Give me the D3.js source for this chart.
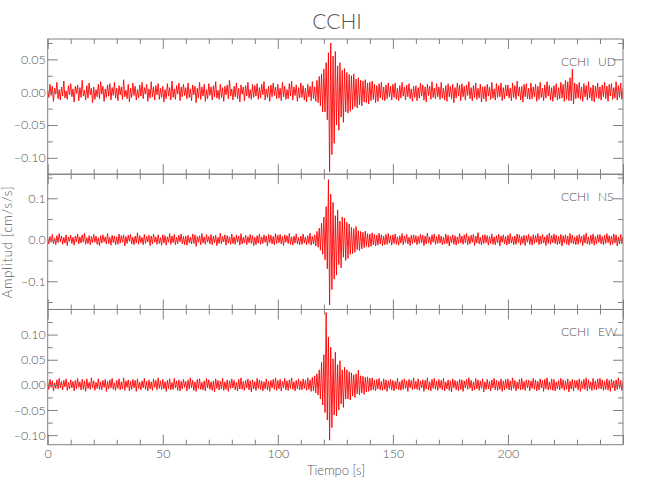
<!DOCTYPE html>
<html><head><meta charset="utf-8">
<script src="https://cdn.jsdelivr.net/npm/d3@7"></script>
<style>
body{margin:0;background:#fff}
svg{display:block}
text{font-family:Lato,"Liberation Sans Narrow","DejaVu Sans Condensed",sans-serif;font-weight:300;fill:#555}
</style>
</head><body><svg id="c" width="650" height="500"></svg>
<script>
const station = "CCHI";
const components = ["UD", "NS", "EW"];
const dt = 0.5;          // sample spacing [s]
const unit = 0.001;      // values below are in 1e-3 cm/s/s
const xMajorTicks = [0, 50, 100, 150, 200, 250];
const xMinorTicks = [10,20,30,40,60,70,80,90,110,120,130,140,160,170,180,190,210,220,230,240];
const yDomains = [[-0.125, 0.081], [-0.168, 0.158], [-0.119, 0.150]];
const yMajorTicks = [[0.05, 0, -0.05, -0.10], [0.1, 0, -0.1], [0.10, 0.05, 0, -0.05, -0.10]];
const yMinorTicks = [[0.075, 0.025, -0.025, -0.075, -0.125], [0.15, 0.05, -0.05, -0.15], [0.125, 0.075, 0.025, -0.025, -0.075]];
const yTickDecimals = [2, 1, 2];

const udValues = [
3,-8,12,-5,9,-14,6,-3,15,-10,4,-12,8,-6,17,-9,2,-11,10,-4,
13,-7,5,-15,9,-2,11,-13,7,-8,18,-6,3,-12,10,-9,14,-4,6,-16,
8,-11,4,-7,12,-10,16,-3,9,-14,5,-8,11,-6,13,-12,7,-5,15,-9,
6,-13,10,-4,8,-11,19,-7,3,-10,12,-15,6,-8,14,-5,9,-12,4,-9,
11,-6,15,-10,7,-3,12,-14,5,-9,16,-7,8,-12,10,-4,13,-11,6,-8,
9,-15,4,-10,13,-6,7,-12,17,-8,5,-11,10,-3,14,-13,8,-7,12,-5,
7,-10,14,-8,5,-13,11,-4,9,-16,6,-9,15,-11,8,-6,12,-14,4,-10,
13,-5,8,-12,10,-7,16,-9,3,-11,12,-8,7,-14,9,-4,11,-10,18,-6,
5,-12,9,-7,14,-10,6,-15,11,-3,8,-13,10,-6,15,-9,4,-11,12,-8,
10,-6,13,-11,7,-9,12,-4,16,-12,5,-8,9,-14,11,-7,14,-5,8,-10,
12,-9,6,-13,15,-7,9,-11,4,-10,13,-6,17,-12,8,-5,11,-14,7,-9,
14,-8,10,-12,6,-15,12,-7,9,-13,16,-10,8,-14,18,-16,24,-21,28,-30,
35,-30,45,-42,60,-121,75,-95,55,-78,62,-50,40,-58,45,-38,33,-46,36,-30,
30,-32,27,-29,25,-26,28,-22,20,-24,22,-19,18,-21,17,-15,19,-16,14,-18,
15,-13,17,-11,12,-16,10,-14,13,-9,15,-12,8,-13,11,-10,14,-7,9,-12,
12,-8,14,-11,6,-13,10,-9,15,-6,8,-12,11,-7,13,-10,5,-14,9,-8,
10,-13,7,-9,14,-6,11,-12,8,-15,12,-5,9,-11,16,-8,6,-10,13,-7,
8,-11,15,-9,6,-12,10,-14,13,-7,9,-10,12,-16,7,-9,14,-6,11,-13,
13,-7,9,-12,11,-5,16,-10,7,-13,10,-8,14,-11,6,-9,12,-15,8,-10,
9,-14,12,-6,8,-11,15,-9,5,-12,13,-8,10,-7,14,-13,7,-10,11,-6,
11,-9,6,-13,14,-8,10,-11,17,-6,8,-12,9,-15,12,-7,13,-10,6,-11,
14,-10,8,-7,12,-14,9,-11,15,-8,6,-13,11,-9,16,-6,10,-12,7,-14,
10,-8,13,-12,7,-10,15,-9,12,-14,18,-11,16,-13,22,-13,35,-18,14,-10,
12,-9,15,-11,8,-14,13,-7,10,-12,16,-9,7,-13,11,-15,9,-8,14,-10,
8,-12,11,-7,15,-10,9,-14,12,-6,13,-11,7,-9,16,-12,10,-8,14,-11,
6];

const nsValues = [
5,-10,8,-6,13,-9,4,-12,10,-7,15,-5,9,-11,6,-8,12,-14,7,-4,
11,-9,6,-13,9,-5,14,-10,7,-8,12,-6,16,-11,5,-9,10,-12,8,-7,
13,-6,9,-11,5,-14,10,-8,12,-5,7,-10,15,-9,6,-13,11,-7,9,-12,
7,-11,14,-8,10,-6,12,-15,8,-9,11,-4,13,-10,6,-12,9,-8,17,-11,
10,-7,6,-12,13,-9,8,-5,11,-14,9,-10,14,-6,7,-11,12,-9,5,-13,
12,-8,10,-13,7,-6,15,-11,9,-7,13,-12,6,-9,11,-5,14,-10,8,-12,
9,-13,11,-7,6,-10,14,-9,12,-16,8,-6,10,-12,15,-8,7,-11,13,-6,
8,-10,13,-12,9,-7,11,-14,6,-9,16,-10,8,-5,12,-13,10,-8,7,-11,
14,-9,7,-11,12,-6,9,-13,15,-10,6,-8,11,-12,8,-7,13,-9,10,-14,
6,-12,10,-8,14,-11,7,-9,12,-6,9,-15,13,-7,11,-10,8,-12,15,-9,
11,-7,13,-10,8,-14,12,-6,10,-9,15,-11,7,-13,9,-8,14,-10,6,-12,
9,-11,14,-8,7,-12,10,-9,16,-13,8,-10,12,-15,20,-18,28,-25,40,-35,
55,-48,80,-70,145,-157,110,-120,90,-95,58,-85,72,-60,45,-68,55,-42,52,-50,
42,-45,38,-35,30,-33,27,-30,32,-24,22,-26,20,-22,18,-19,21,-16,15,-18,
14,-16,17,-12,13,-15,11,-13,16,-10,12,-14,9,-12,13,-11,15,-8,10,-13,
12,-9,14,-11,7,-13,10,-8,15,-12,9,-7,13,-10,6,-14,11,-9,12,-7,
10,-12,8,-9,13,-7,11,-14,9,-10,16,-8,7,-12,12,-6,14,-11,8,-9,
13,-8,9,-12,6,-10,14,-9,11,-15,8,-7,12,-11,10,-13,7,-9,15,-8,
9,-11,12,-7,15,-12,8,-10,11,-6,13,-14,9,-8,17,-10,6,-12,11,-9,
12,-7,10,-13,8,-9,14,-11,7,-12,10,-8,13,-15,9,-6,12,-10,8,-13,
11,-10,15,-8,7,-12,9,-11,14,-7,12,-13,8,-9,11,-14,10,-6,13,-11,
8,-13,12,-9,10,-6,15,-12,9,-10,13,-8,7,-14,12,-9,16,-11,10,-7,
14,-9,11,-12,8,-10,13,-15,10,-7,12,-11,9,-13,15,-8,11,-10,7,-12,
10,-11,13,-7,9,-14,12,-8,16,-10,7,-12,11,-9,14,-13,8,-10,12,-6,
13,-10,8,-12,11,-9,15,-7,10,-13,9,-11,14,-8,12,-15,7,-10,13,-9,
8];

const ewValues = [
6,-9,11,-5,8,-12,4,-7,10,-8,13,-6,7,-10,9,-4,12,-11,5,-8,
10,-6,7,-12,9,-8,13,-5,6,-10,11,-9,8,-13,12,-7,5,-9,14,-6,
8,-11,5,-7,12,-9,6,-10,9,-5,11,-13,7,-8,10,-6,13,-9,4,-11,
9,-7,12,-10,6,-8,14,-11,8,-5,10,-12,7,-9,11,-6,9,-13,12,-7,
5,-10,8,-6,13,-9,7,-12,10,-8,6,-11,12,-5,9,-10,14,-7,8,-9,
11,-8,6,-13,9,-7,12,-10,5,-9,13,-6,8,-11,10,-12,7,-8,11,-5,
7,-12,10,-8,14,-6,9,-11,6,-13,11,-7,12,-9,5,-10,8,-12,13,-6,
10,-9,6,-11,8,-14,12,-7,9,-10,7,-8,13,-11,6,-9,10,-13,8,-7,
12,-6,9,-10,5,-12,11,-8,14,-9,7,-11,9,-6,12,-10,8,-14,10,-8,
6,-11,13,-7,10,-9,8,-12,6,-8,12,-10,7,-13,9,-6,11,-9,14,-11,
9,-8,11,-12,7,-6,13,-10,8,-11,10,-7,14,-9,6,-12,9,-8,12,-10,
8,-10,12,-7,9,-11,14,-9,10,-13,15,-12,18,-16,22,-20,30,-28,45,-40,
60,-55,144,-70,95,-110,75,-85,52,-60,65,-62,40,-50,48,-38,30,-45,35,-28,
30,-28,26,-30,24,-22,20,-25,22,-18,29,-20,18,-16,17,-19,15,-14,16,-13,
13,-11,14,-10,9,-12,11,-8,13,-10,7,-11,12,-9,10,-13,8,-7,11,-10,
9,-12,7,-8,13,-10,6,-11,10,-9,12,-7,8,-13,11,-6,9,-10,14,-8,
7,-9,12,-11,8,-6,10,-13,9,-8,14,-10,6,-12,11,-7,13,-9,8,-11,
11,-7,9,-10,13,-12,6,-8,10,-11,8,-14,12,-6,9,-10,7,-12,11,-9,
10,-13,8,-6,11,-9,14,-7,9,-12,6,-10,13,-8,10,-11,8,-7,12,-14,
6,-9,11,-8,7,-12,10,-6,13,-10,9,-11,7,-9,12,-13,8,-10,11,-7,
12,-10,8,-11,14,-7,9,-12,6,-8,11,-10,13,-9,7,-11,10,-6,9,-12,
8,-7,13,-9,10,-12,7,-10,12,-6,9,-13,11,-8,14,-10,6,-9,12,-11,
11,-12,6,-8,9,-10,13,-7,10,-11,8,-9,12,-14,7,-8,11,-12,9,-6,
9,-10,12,-13,8,-7,11,-9,14,-12,10,-8,6,-11,13,-9,8,-10,12,-7,
13,-8,10,-11,7,-9,12,-10,9,-13,11,-6,8,-12,10,-9,14,-7,9,-11,
7];

const seriesValues = [udValues, nsValues, ewValues];

const svg = d3.select("#c");
const left = 47.7, right = 623, top0 = 39, bottom0 = 444.7;
const ph = (bottom0 - top0) / 3;
const axisColor = "#808080";
const fontFam = 'Lato,"Liberation Sans Narrow","DejaVu Sans Condensed",sans-serif';

const x = d3.scaleLinear().domain([0, 250]).range([left, right]);

const defs = svg.append("defs");

components.forEach((comp, i) => {
  const top = top0 + i * ph, bot = top + ph;
  const y = d3.scaleLinear().domain(yDomains[i]).range([bot, top]);
  const g = svg.append("g");

  defs.append("clipPath").attr("id", "clip" + i)
    .append("rect").attr("x", left).attr("y", top).attr("width", right - left).attr("height", ph);

  const line = d3.line().x((v, j) => x(j * dt)).y(v => y(v * unit));
  g.append("path").datum(seriesValues[i])
    .attr("clip-path", "url(#clip" + i + ")")
    .attr("d", line)
    .attr("fill", "none")
    .attr("stroke", "#ff0000")
    .attr("stroke-width", 0.9)
    .attr("stroke-linejoin", "miter");

  g.append("rect").attr("x", left).attr("y", top).attr("width", right - left).attr("height", ph)
    .attr("fill", "none").attr("stroke", axisColor).attr("stroke-width", 1);

  const fmt = d3.format("." + yTickDecimals[i] + "f");
  g.append("g").attr("transform", `translate(0,${bot})`)
    .call(d3.axisBottom(x).tickValues(xMajorTicks).tickSize(-10).tickPadding(4.5)
      .tickFormat(i === 2 ? (d => d === 250 ? "" : d3.format("d")(d)) : () => ""));
  g.append("g").attr("transform", `translate(0,${bot})`)
    .call(d3.axisBottom(x).tickValues(xMinorTicks).tickSize(-5).tickFormat(() => ""));
  g.append("g").attr("transform", `translate(0,${top})`)
    .call(d3.axisTop(x).tickValues(xMajorTicks).tickSize(-10).tickFormat(() => ""));
  g.append("g").attr("transform", `translate(0,${top})`)
    .call(d3.axisTop(x).tickValues(xMinorTicks).tickSize(-5).tickFormat(() => ""));
  g.append("g").attr("transform", `translate(${left},0)`)
    .call(d3.axisLeft(y).tickValues(yMajorTicks[i]).tickSize(-10).tickPadding(2).tickFormat(fmt));
  g.append("g").attr("transform", `translate(${left},0)`)
    .call(d3.axisLeft(y).tickValues(yMinorTicks[i]).tickSize(-5).tickFormat(() => ""));
  g.append("g").attr("transform", `translate(${right},0)`)
    .call(d3.axisRight(y).tickValues(yMajorTicks[i]).tickSize(-10).tickFormat(() => ""));
  g.append("g").attr("transform", `translate(${right},0)`)
    .call(d3.axisRight(y).tickValues(yMinorTicks[i]).tickSize(-5).tickFormat(() => ""));

  g.append("text").attr("x", 561).attr("y", top + 27).attr("font-size", 12).text(station);
  g.append("text").attr("x", 598).attr("y", top + 27).attr("font-size", 12).text(comp);
});

svg.selectAll(".domain").remove();
svg.selectAll(".tick line").attr("stroke", axisColor);
svg.selectAll(".tick text").attr("fill", "#555").attr("font-size", 12.5)
  .attr("font-family", fontFam).attr("font-weight", 300);

svg.append("text").attr("x", 337).attr("y", 29).attr("text-anchor", "middle")
  .attr("font-size", 21).attr("fill", "#666").text(station);
svg.append("text").attr("x", 336).attr("y", 475).attr("text-anchor", "middle")
  .attr("font-size", 13).text("Tiempo [s]");
svg.append("text").attr("transform", "translate(12,242) rotate(-90)").attr("text-anchor", "middle")
  .attr("font-size", 13).attr("letter-spacing", 0.8).text("Amplitud [cm/s/s]");
</script>
</body></html>
